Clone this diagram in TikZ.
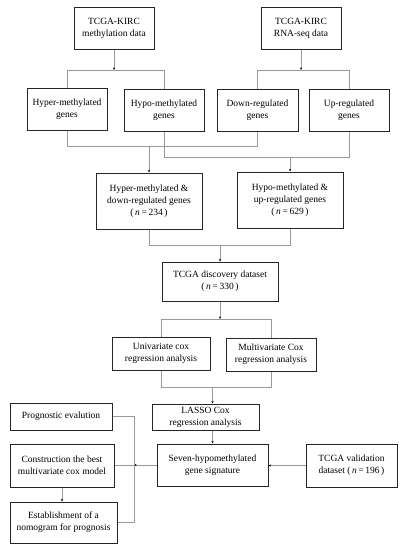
\documentclass[tikz,border=0pt]{standalone}
\usepackage{fontspec}
\setmainfont{Liberation Serif}
\usetikzlibrary{arrows.meta}
\begin{document}
\begin{tikzpicture}[x=1pt,y=-1pt,
  box/.style={draw=black!85, line width=1pt, align=center, inner sep=0pt, font=\fontsize{9.5}{12}\selectfont},
  conn/.style={draw=black!40, line width=0.8pt},
  arr/.style={draw=black!40, line width=0.8pt, -{Stealth[length=2.6pt,width=2.2pt,color=black]}}]
\useasboundingbox[fill=white] (0,0) rectangle (403,550);
% top
\node[box, minimum width=80, minimum height=42] (A) at (114,28) {TCGA-KIRC\\methylation data};
\node[box, minimum width=80, minimum height=42] (B) at (301,28) {TCGA-KIRC\\RNA-seq data};
\node[box, minimum width=80, minimum height=42] (hyper) at (67,109) {Hyper-methylated\\genes};
\node[box, minimum width=80, minimum height=42] (hypo) at (164,110) {Hypo-methylated\\genes};
\node[box, minimum width=81, minimum height=42] (down) at (257.5,110) {Down-regulated\\genes};
\node[box, minimum width=80, minimum height=42] (up) at (349,110) {Up-regulated\\genes};
\node[box, minimum width=106, minimum height=56] (hd) at (149,201) {Hyper-methylated \&\\down-regulated genes\\(\,\textit{n}\,=\,234\,)};
\node[box, minimum width=106, minimum height=56] (hu) at (290,200) {Hypo-methylated \&\\up-regulated genes\\(\,\textit{n}\,=\,629\,)};
\node[box, minimum width=116, minimum height=39] (disc) at (220,281.5) {TCGA discovery dataset\\(\,\textit{n}\,=\,330\,)};
\node[box, minimum width=98, minimum height=33] (uni) at (161,353.5) {Univariate cox\\regression analysis};
\node[box, minimum width=90, minimum height=33] (multi) at (271,354.5) {Multivariate Cox\\regression analysis};
\node[box, minimum width=107, minimum height=26] (lasso) at (205.5,417) {LASSO Cox\\regression analysis};
\node[box, minimum width=111, minimum height=42] (seven) at (212.5,465) {Seven-hypomethylated\\gene signature};
\node[box, minimum width=91, minimum height=43] (valid) at (351.5,465.5) {TCGA validation\\dataset (\,\textit{n}\,=\,196\,)};
\node[box, minimum width=102, minimum height=27] (prog) at (61,416.5) {Prognostic evalution};
\node[box, minimum width=104, minimum height=43] (constr) at (62,465.5) {Construction the best\\multivariate cox model};
\node[box, minimum width=107, minimum height=41] (estab) at (63.5,522.5) {Establishment of a\\nomogram for prognosis};
% junctions
\coordinate (jA) at (114,70);
\coordinate (jB2) at (301,70);
\coordinate (jHD) at (149,146);
\coordinate (jHU) at (290,157);
\coordinate (jD) at (220,245);
\coordinate (jU) at (220,319);
\coordinate (jL) at (212.5,387);
\coordinate (jB) at (134,465);
% connectors
\draw[arr] (A.south) -- (jA);
\draw[conn] (hyper.north) |- (jA -| hypo.north) -- (hypo.north);
\draw[arr] (B.south) -- (jB2);
\draw[conn] (down.north) |- (jB2 -| up.north) -- (up.north);
\draw[conn] (hyper.south) |- (jHD -| down.south) -- (down.south);
\draw[arr] (jHD) -- (jHD |- hd.north);
\draw[conn] (hypo.south) |- (jHU -| up.south) -- (up.south);
\draw[arr] (jHU) -- (jHU |- hu.north);
\draw[conn] (hd.south) |- (jD -| hu.south) -- (hu.south);
\draw[arr] (jD) -- (jD |- disc.north);
\draw[arr] (disc.south) -- (jU);
\draw[conn] (uni.north) |- (jU -| multi.north) -- (multi.north);
\draw[conn] (uni.south) |- (jL -| multi.south) -- (multi.south);
\draw[arr] (jL) -- (jL |- lasso.north);
\draw[arr] (seven.north |- lasso.south) -- (seven.north);
\draw[arr] (valid.west) -- (valid.west -| seven.east);
\draw[arr] (seven.west) -- (jB);
\draw[conn] (prog.east) -| (jB |- estab.east) -- (estab.east);
\draw[conn] (constr.east) -- (constr.east -| jB);
\draw[arr] (constr.south) -- (constr.south |- estab.north);
\end{tikzpicture}
\end{document}
